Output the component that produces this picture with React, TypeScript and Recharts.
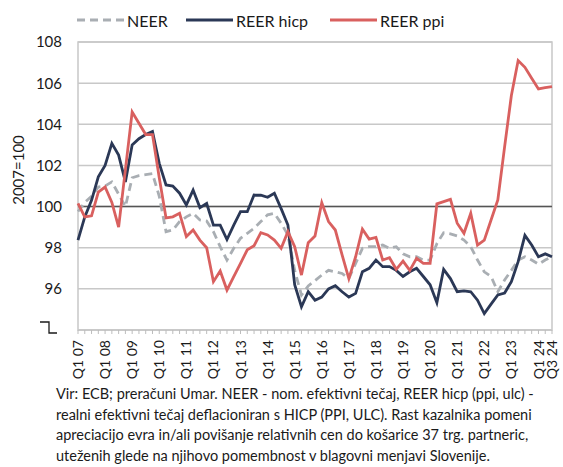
import React from 'react';
import { LineChart, Line, XAxis, YAxis, CartesianGrid, ReferenceLine, ReferenceArea } from 'recharts';

const YEARS = ['07', '08', '09', '10', '11', '12', '13', '14', '15', '16', '17', '18', '19', '20', '21', '22', '23', '24'];
const QUARTERS = ['Q1', 'Q2', 'Q3', 'Q4'];
const LAST_CATEGORY = 'Q3 24';

const CATEGORIES: string[] = [];
for (const y of YEARS) {
  for (const q of QUARTERS) {
    const c = `${q} ${y}`;
    CATEGORIES.push(c);
    if (c === LAST_CATEGORY) break;
  }
}

const NEER = [
  99.76, 100.2, 100.5, 100.95, 101.0, 101.2, 100.6, 100.0, 101.4, 101.5, 101.55, 101.6,
  100.5, 98.78, 98.86, 99.27, 99.5, 99.67, 99.35, 99.3, 98.78, 98.05, 97.4, 97.97,
  98.46, 98.7, 98.94, 99.27, 99.6, 99.67, 99.19, 98.62, 96.9, 95.7, 96.14, 96.4,
  96.67, 96.9, 96.83, 96.75, 96.5, 97.24, 97.97, 98.05, 98.05, 98.13, 97.97, 98.05,
  97.7, 97.56, 97.56, 97.4, 97.4, 98.2, 98.73, 98.67, 98.57, 98.37, 98.05, 97.4,
  96.83, 96.6, 95.86, 96.43, 96.9, 97.4, 97.56, 97.4, 97.2, 97.4, 97.56,
];

const REER_HICP = [
  98.37, 99.5, 100.3, 101.45, 102.0, 103.07, 102.5, 101.2, 103.0, 103.3, 103.5, 103.65,
  102.1, 101.05, 101.0, 100.65, 100.08, 100.8, 99.95, 100.15, 99.1, 99.1, 98.4, 99.1,
  99.75, 99.75, 100.56, 100.55, 100.45, 100.65, 99.9, 99.1, 96.2, 95.13, 95.86, 95.45,
  95.6, 96.0, 96.15, 95.86, 95.6, 95.78, 96.83, 97.0, 97.4, 97.08, 97.08, 96.9,
  96.6, 96.83, 97.0, 96.6, 96.2, 95.33, 96.95, 96.5, 95.86, 95.9, 95.86, 95.45,
  94.8, 95.26, 95.7, 95.8, 96.35, 97.32, 98.6, 98.13, 97.56, 97.7, 97.56,
];

const REER_PPI = [
  100.15, 99.5, 99.55, 100.7, 100.95, 100.2, 99.0, 101.8, 104.6, 104.05, 103.5, 103.5,
  101.4, 99.45, 99.5, 99.67, 98.54, 98.86, 98.37, 98.0, 96.35, 96.87, 95.94, 96.6,
  97.24, 97.9, 98.1, 98.73, 98.62, 98.37, 97.97, 98.78, 98.05, 96.67, 98.24, 98.57,
  100.19, 99.27, 98.86, 97.65, 96.5, 97.56, 98.9, 98.42, 98.5, 97.4, 97.51, 96.95,
  97.35, 96.9, 97.48, 97.24, 97.24, 100.13, 100.24, 100.35, 99.19, 98.7, 99.67, 98.13,
  98.37, 99.35, 100.32, 102.9, 105.4, 107.1, 106.77, 106.24, 105.72, 105.78, 105.83,
];

const Y_TICKS = [94, 96, 98, 100, 102, 104, 106, 108];
const Y_AXIS_TITLE = '2007=100';
const SERIES_NAMES = ['NEER', 'REER hicp', 'REER ppi'];
const FOOTNOTE = [
  'Vir: ECB; preračuni Umar. NEER - nom. efektivni tečaj, REER hicp (ppi, ulc)\u00a0-',
  'realni efektivni tečaj deflacioniran s HICP (PPI, ULC). Rast kazalnika pomeni',
  'apreciacijo evra in/ali povišanje relativnih cen do košarice 37 trg. partneric,',
  'uteženih glede na njihovo pomembnost v blagovni menjavi Slovenije.',
];

const data = CATEGORIES.map((q, i) => ({
  q,
  neer: NEER[i],
  hicp: REER_HICP[i],
  ppi: REER_PPI[i],
}));

const FONT = "Lato, 'Open Sans', sans-serif";
const TEXT = '#1a1a1a';
const GRID = '#c8c8c8';
const C_NEER = '#a9aeb3';
const C_HICP = '#2b3856';
const C_PPI = '#d9605f';

const XTick = (props: any) => {
  const { x, y, payload } = props;
  const v: string = payload.value;
  const show = v.startsWith('Q1') || v === LAST_CATEGORY;
  if (!show) return <g />;
  return (
    <g transform={`translate(${x},${y})`}>
      <text
        transform="rotate(-90)"
        x={0}
        y={0}
        dy="0.36em"
        textAnchor="end"
        fill={TEXT}
        fontSize={14}
        fontFamily={FONT}
      >
        {v}
      </text>
    </g>
  );
};

const YTick = (props: any) => {
  const { x, y, payload } = props;
  if (payload.value === Y_TICKS[0]) {
    return (
      <path
        d={`M${x - 22},${y - 8} H${x - 13} V${y + 3} H${x - 5}`}
        stroke={TEXT}
        strokeWidth={1.3}
        fill="none"
      />
    );
  }
  return (
    <text x={x} y={y} dy="0.36em" textAnchor="end" fill={TEXT} fontSize={15} fontFamily={FONT}>
      {payload.value}
    </text>
  );
};

const YTitle = (props: any) => {
  const vb = props.viewBox || { x: 0, y: 0, width: 0, height: 0 };
  const cx = vb.x + 18;
  const cy = vb.y + vb.height / 2 - 16;
  return (
    <text
      x={cx}
      y={cy}
      transform={`rotate(-90, ${cx}, ${cy})`}
      textAnchor="middle"
      dominantBaseline="central"
      fill={TEXT}
      fontSize={15}
      fontFamily={FONT}
    >
      {Y_AXIS_TITLE}
    </text>
  );
};

const LegendItem = ({ left, color, dashed, label }: any) => (
  <div
    style={{
      position: 'absolute',
      left,
      top: 9,
      display: 'flex',
      alignItems: 'center',
      height: 22,
      whiteSpace: 'nowrap',
    }}
  >
    <svg width={47} height={6} style={{ display: 'block' }}>
      <line
        x1={0}
        y1={3}
        x2={47}
        y2={3}
        stroke={color}
        strokeWidth={3}
        strokeDasharray={dashed ? '8 5' : undefined}
      />
    </svg>
    <span style={{ marginLeft: 3, fontSize: 16, fontFamily: FONT, color: TEXT }}>{label}</span>
  </div>
);

export default function App() {
  return (
    <div
      style={{
        position: 'absolute',
        left: 0,
        top: 0,
        width: 563,
        height: 467,
        background: '#fff',
        overflow: 'hidden',
      }}
    >
      <LegendItem left={77} color={C_NEER} dashed label={SERIES_NAMES[0]} />
      <LegendItem left={186} color={C_HICP} label={SERIES_NAMES[1]} />
      <LegendItem left={330} color={C_PPI} label={SERIES_NAMES[2]} />
      <div style={{ position: 'absolute', left: 0, top: 0 }}>
        <LineChart width={563} height={386} data={data} margin={{ top: 42, right: 11, bottom: 0, left: 0 }}>
          <CartesianGrid vertical={false} stroke={GRID} strokeWidth={1.5} />
          <ReferenceArea
            x1={CATEGORIES[0]}
            x2={CATEGORIES[CATEGORIES.length - 1]}
            y1={Y_TICKS[0]}
            y2={Y_TICKS[Y_TICKS.length - 1]}
            fill="none"
            fillOpacity={0}
            stroke={GRID}
            strokeWidth={1.5}
          />
          <ReferenceLine y={100} stroke="#555" strokeWidth={1.5} />
          <XAxis
            dataKey="q"
            interval={0}
            height={56}
            tick={<XTick />}
            tickSize={4}
            tickMargin={6}
            axisLine={{ stroke: GRID, strokeWidth: 1.5 }}
            tickLine={{ stroke: '#bdbdbd', strokeWidth: 1 }}
          />
          <YAxis
            domain={[Y_TICKS[0], Y_TICKS[Y_TICKS.length - 1]]}
            ticks={Y_TICKS}
            interval={0}
            width={78}
            axisLine={false}
            tickLine={false}
            tickSize={0}
            tickMargin={16}
            tick={<YTick />}
            label={<YTitle />}
          />
          <Line
            dataKey="neer"
            name={SERIES_NAMES[0]}
            stroke={C_NEER}
            strokeWidth={2.8}
            strokeDasharray="8 5"
            dot={false}
            activeDot={false}
            isAnimationActive={false}
          />
          <Line
            dataKey="hicp"
            name={SERIES_NAMES[1]}
            stroke={C_HICP}
            strokeWidth={2.8}
            dot={false}
            activeDot={false}
            isAnimationActive={false}
          />
          <Line
            dataKey="ppi"
            name={SERIES_NAMES[2]}
            stroke={C_PPI}
            strokeWidth={2.8}
            dot={false}
            activeDot={false}
            isAnimationActive={false}
          />
        </LineChart>
      </div>
      <div
        style={{
          position: 'absolute',
          left: 56,
          top: 384,
          width: 507,
          fontSize: 14.5,
          lineHeight: '20.5px',
          fontFamily: FONT,
          color: TEXT,
        }}
      >
        {FOOTNOTE.map((l, i) => (
          <div key={i} style={{ whiteSpace: 'pre', width: 'max-content' }}>
            {l}
          </div>
        ))}
      </div>
    </div>
  );
}
